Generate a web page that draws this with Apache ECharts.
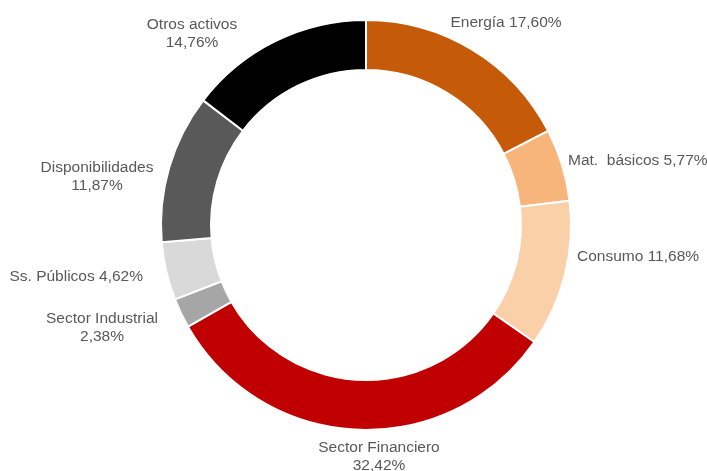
<!DOCTYPE html>
<html>
<head>
<meta charset="utf-8">
<script src="https://cdn.jsdelivr.net/npm/echarts@6/dist/echarts.min.js"></script>
<style>
  html, body { margin: 0; padding: 0; background: #fff; }
  #chart { width: 707px; height: 471px; }
</style>
</head>
<body>
<div id="chart"></div>
<script>
// Sector breakdown of the portfolio (percent)
const sectors = ['Energía', 'Mat.  básicos', 'Consumo', 'Sector Financiero', 'Sector Industrial', 'Ss. Públicos', 'Disponibilidades', 'Otros activos'];
const weights = [17.60, 5.77, 11.68, 32.42, 2.38, 4.62, 11.87, 14.76];
const sliceColors = ['#C55A08', '#F8B57B', '#FAD0A9', '#C00000', '#A6A6A6', '#D9D9D9', '#595959', '#000000'];
// label layout: name and value on one line or stacked
const stacked = [false, false, false, true, true, false, true, true];

// label anchor spots around the ring (x, y, text alignment)
const labelSpots = [
  { x: 506, y: 23, align: 'center' },
  { x: 568, y: 161, align: 'left' },
  { x: 577, y: 257, align: 'left' },
  { x: 379, y: 457, align: 'center' },
  { x: 102, y: 328, align: 'center' },
  { x: 143, y: 277, align: 'right' },
  { x: 97, y: 177, align: 'center' },
  { x: 192, y: 34, align: 'center' }
];

const fmt = v => v.toFixed(2).replace('.', ',') + '%';

const chart = echarts.init(document.getElementById('chart'), null, { renderer: 'canvas' });
chart.setOption({
  backgroundColor: '#ffffff',
  animation: false,
  series: [{
    type: 'pie',
    center: [366, 225],
    radius: [155, 205],
    startAngle: 90,
    clockwise: true,
    avoidLabelOverlap: false,
    itemStyle: { borderColor: '#ffffff', borderWidth: 2 },
    label: {
      show: true,
      position: 'outside',
      color: '#595959',
      fontFamily: 'Liberation Sans, Arial, sans-serif',
      fontSize: 15.5,
      lineHeight: 18,
      formatter: p => p.name + (stacked[p.dataIndex] ? '\n' : ' ') + fmt(p.value)
    },
    labelLine: { show: false },
    labelLayout: p => {
      const s = labelSpots[p.dataIndex];
      return { x: s.x, y: s.y, align: s.align, verticalAlign: 'middle' };
    },
    data: sectors.map((name, i) => ({
      name: name,
      value: weights[i],
      itemStyle: { color: sliceColors[i] }
    }))
  }]
});
</script>
</body>
</html>
